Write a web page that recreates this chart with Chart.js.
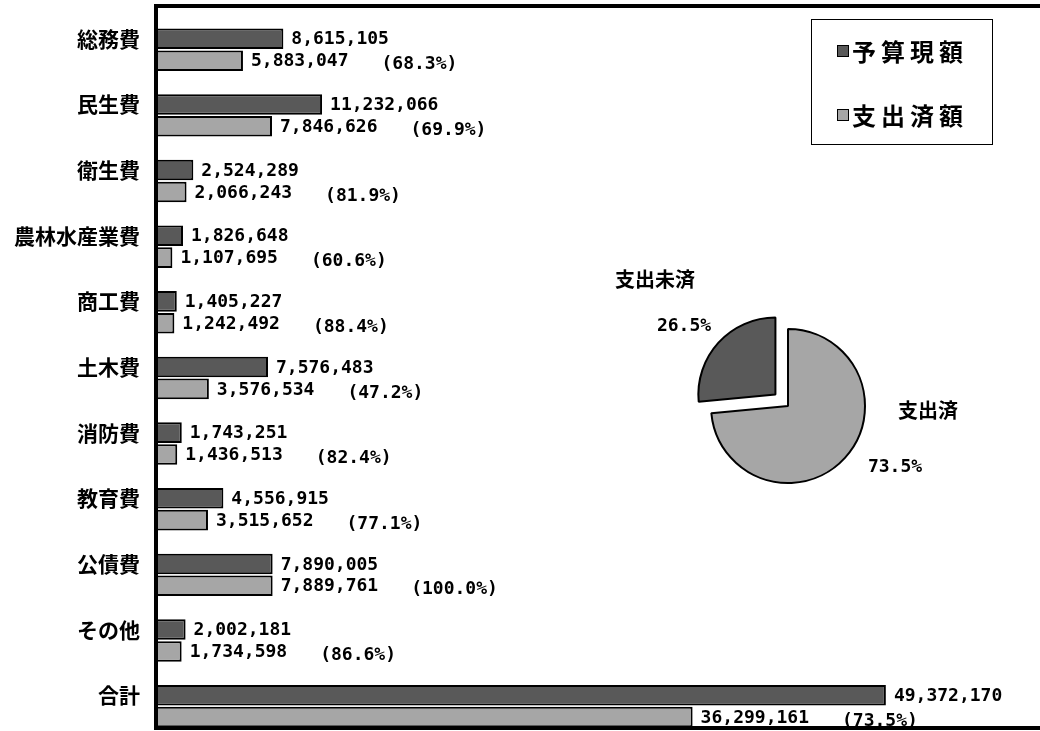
<!DOCTYPE html>
<html lang="ja">
<head>
<meta charset="utf-8">
<title>款別 予算現額・支出済額</title>
<script src="https://cdn.jsdelivr.net/npm/chart.js@4.4.1/dist/chart.umd.min.js"></script>
<style>
  html, body { margin: 0; padding: 0; background: #fff; overflow: hidden; }
  #wrap { position: relative; width: 1040px; height: 731px; overflow: hidden; }
  #chartBars { position: absolute; left: 0; top: 0; }
  #chartPie { position: absolute; left: 600px; top: 260px; }
</style>
</head>
<body>
<div id="wrap">
  <canvas id="chartBars" width="1050" height="731"></canvas>
  <canvas id="chartPie" width="400" height="240"></canvas>
</div>
<script>
// 款別の予算現額・支出済額（千円）
const categories = ["総務費", "民生費", "衛生費", "農林水産業費", "商工費", "土木費", "消防費", "教育費", "公債費", "その他", "合計"];
const budget = [8615105, 11232066, 2524289, 1826648, 1405227, 7576483, 1743251, 4556915, 7890005, 2002181, 49372170];
const spent = [5883047, 7846626, 2066243, 1107695, 1242492, 3576534, 1436513, 3515652, 7889761, 1734598, 36299161];
const xMax = 60000000;

// 円グラフ：合計の支出済と支出未済
const last = categories.length - 1;
const pieNames = ["支出済", "支出未済"];
const pieValues = [spent[last], budget[last] - spent[last]];

const DARK = "#595959";
const LIGHT = "#a6a6a6";
const NUM_FONT = "'DejaVu Sans Mono', monospace";
const JP_FONT = "'Noto Sans CJK JP', sans-serif";

const fmt = (v) => v.toLocaleString("en-US");
const pct = (a, b) => ((a / b) * 100).toFixed(1) + "%";

// 棒の右に金額と執行率
const valueLabels = {
  id: "valueLabels",
  afterDatasetsDraw(chart) {
    const ctx = chart.ctx;
    ctx.save();
    ctx.font = "bold 18px " + NUM_FONT;
    ctx.fillStyle = "#000";
    ctx.textBaseline = "middle";
    ctx.textAlign = "left";
    chart.getDatasetMeta(1).data.forEach((bar, i) => {
      ctx.fillText(fmt(budget[i]), bar.x + 8, bar.y + 1);
    });
    chart.getDatasetMeta(2).data.forEach((bar, i) => {
      const txt = fmt(spent[i]);
      const x = bar.x + 8;
      ctx.fillText(txt, x, bar.y + 1);
      const w = ctx.measureText(txt).width;
      ctx.fillText("(" + pct(spent[i], budget[i]) + ")", x + w + 33, bar.y + 4);
    });
    ctx.restore();
  },
};

// プロットエリアの太枠
const plotFrame = {
  id: "plotFrame",
  afterDraw(chart) {
    const { ctx, chartArea: a } = chart;
    ctx.save();
    ctx.strokeStyle = "#000";
    ctx.lineWidth = 4;
    ctx.strokeRect(a.left, a.top, a.right - a.left, a.bottom - a.top);
    ctx.restore();
  },
};

// 右上の凡例ボックス
const legendBox = {
  id: "legendBox",
  afterDraw(chart, args, opts) {
    const ctx = chart.ctx;
    ctx.save();
    ctx.fillStyle = "#fff";
    ctx.fillRect(opts.left, opts.top, opts.width, opts.height);
    ctx.strokeStyle = "#000";
    ctx.lineWidth = 1;
    ctx.strokeRect(opts.left + 0.5, opts.top + 0.5, opts.width, opts.height);
    ctx.font = "bold 24px " + JP_FONT;
    ctx.letterSpacing = "5px";
    ctx.textBaseline = "middle";
    chart.data.datasets.filter((ds) => ds.label).forEach((ds, i) => {
      const cy = opts.top + opts.firstRow + i * opts.rowGap;
      ctx.fillStyle = ds.backgroundColor;
      ctx.fillRect(opts.left + 26, cy - 6, 12, 12);
      ctx.strokeRect(opts.left + 26.5, cy - 5.5, 11, 11);
      ctx.fillStyle = "#000";
      ctx.fillText(ds.label, opts.left + 41, cy + 1);
    });
    ctx.restore();
  },
};

new Chart(document.getElementById("chartBars"), {
  type: "bar",
  data: {
    labels: categories,
    datasets: [
      // 棒の上の余白分（描かない）
      { label: "", data: [] },
      {
        label: "予算現額",
        data: budget,
        backgroundColor: DARK,
        borderColor: "#000",
        borderWidth: 2,
        borderSkipped: false,
      },
      {
        label: "支出済額",
        data: spent,
        backgroundColor: LIGHT,
        borderColor: "#000",
        borderWidth: 2,
        borderSkipped: false,
      },
    ],
  },
  options: {
    indexAxis: "y",
    responsive: false,
    animation: false,
    datasets: { bar: { categoryPercentage: 1, barPercentage: 0.94 } },
    layout: { padding: { top: 6, bottom: 3, right: 7, left: 0 } },
    scales: {
      x: { display: false, min: 0, max: xMax },
      y: {
        grid: { display: false, drawTicks: false },
        border: { display: false },
        ticks: {
          color: "#000",
          padding: 16,
          font: { family: JP_FONT, size: 21, weight: "bold" },
        },
        afterFit(scale) {
          scale.width = 156;
          scale.paddingTop = 0;
          scale.paddingBottom = 0;
        },
      },
    },
    plugins: {
      legend: { display: false },
      tooltip: { enabled: false },
      legendBox: { left: 811, top: 19, width: 181, height: 125, firstRow: 32, rowGap: 64 },
    },
  },
  plugins: [valueLabels, plotFrame, legendBox],
});

// 円グラフのラベル
const pieText = {
  id: "pieText",
  afterDatasetsDraw(chart, args, opts) {
    const ctx = chart.ctx;
    const total = pieValues.reduce((s, v) => s + v, 0);
    ctx.save();
    ctx.fillStyle = "#000";
    ctx.textAlign = "center";
    ctx.textBaseline = "middle";
    chart.getDatasetMeta(0).data.forEach((arc, i) => {
      ctx.font = "bold 20px " + JP_FONT;
      ctx.fillText(pieNames[i], arc.x + opts.nameAt[i][0], arc.y + opts.nameAt[i][1]);
      ctx.font = "bold 18px " + NUM_FONT;
      ctx.fillText(pct(pieValues[i], total), arc.x + opts.pctAt[i][0], arc.y + opts.pctAt[i][1]);
    });
    ctx.restore();
  },
};

new Chart(document.getElementById("chartPie"), {
  type: "pie",
  data: {
    labels: pieNames,
    datasets: [
      {
        data: pieValues,
        backgroundColor: [LIGHT, DARK],
        borderColor: "#000",
        borderWidth: 2,
        offset: [0, 68],
      },
    ],
  },
  options: {
    responsive: false,
    animation: false,
    radius: 77,
    layout: { padding: { top: 52, right: 24 } },
    plugins: {
      legend: { display: false },
      tooltip: { enabled: false },
      pieText: {
        nameAt: [[140, 4], [-133, -127]],
        pctAt: [[107, 61], [-104, -80]],
      },
    },
  },
  plugins: [pieText],
});
</script>
</body>
</html>
